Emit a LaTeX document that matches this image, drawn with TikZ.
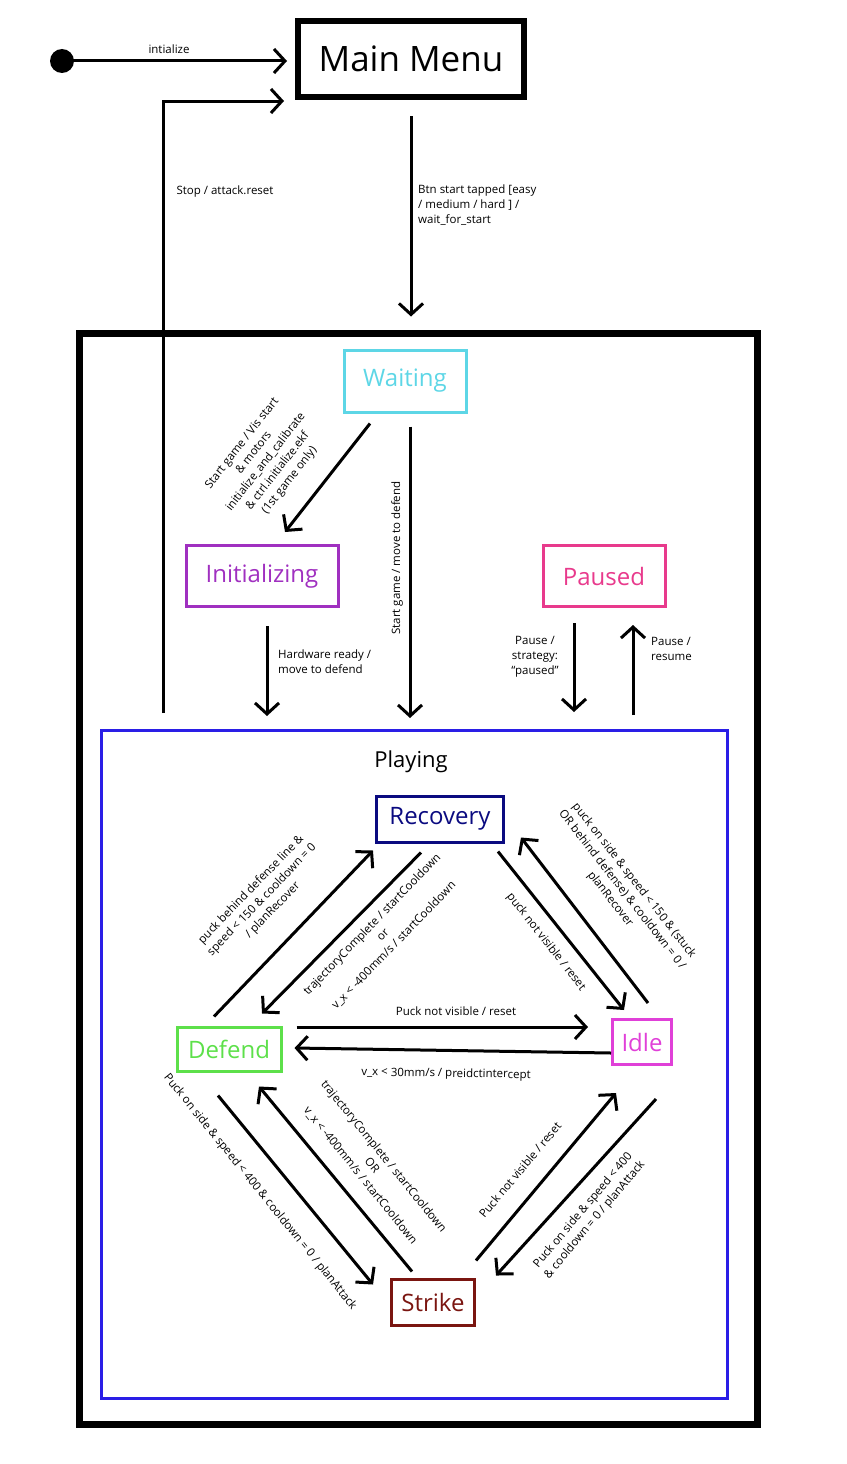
\documentclass[tikz,border=0pt]{standalone}
\usepackage{fontspec}
\setmainfont{Open Sans}
\usetikzlibrary{arrows.meta,calc}

\tikzset{
  state/.style={draw, line width=3pt, minimum height=46pt, inner sep=2pt, font=\fontsize{24}{28}\selectfont},
  trans/.style={line width=3pt, -{Straight Barb[length=11pt,width=24pt,line width=3pt]}},
  lbl/.style={font=\fontsize{11.5}{15}\selectfont, align=center, inner sep=1pt}
}
\definecolor{cwait}{HTML}{5DD6E6}
\definecolor{cinit}{HTML}{A030C0}
\definecolor{cpause}{HTML}{E83A8C}
\definecolor{cplay}{HTML}{2A1EE6}
\definecolor{crec}{HTML}{0A0A80}
\definecolor{cdef}{HTML}{5DE04A}
\definecolor{cidle}{HTML}{E040D8}
\definecolor{cstrike}{HTML}{7A1510}

\begin{document}
\begin{tikzpicture}[x=1pt,y=-1pt]
        \useasboundingbox (0,0) rectangle (846,1464);
        % Containers
        \draw[line width=7pt] (79,333) rectangle (757,1424);
        \draw[line width=3pt, cplay] (101,730) rectangle (727,1398);
        \node[font=\fontsize{22}{26}\selectfont] (playing) at (411,762) {Playing};

        % Top level states
        \fill (62,61) circle (12) coordinate (start);
        \node[draw, line width=6pt, minimum width=226pt, minimum height=76pt, font=\fontsize{35}{40}\selectfont] (menu) at (411,59) {Main Menu};
        \node[state, cwait, minimum width=122pt, minimum height=62pt] (wait) at (405,381) {Waiting};
        \node[state, cinit, minimum width=152pt, minimum height=61pt] (init) at (262,576) {Initializing};
        \node[state, cpause, minimum width=122pt, minimum height=61pt] (pause) at (604,576) {Paused};

        % Inner states
        \node[state, crec, minimum width=127pt] (rec) at (440,819) {Recovery};
        \node[state, cdef, minimum width=104pt, minimum height=44pt] (def) at (229,1049) {Defend};
        \node[state, cidle, minimum width=59pt, minimum height=45pt] (idle) at (642,1042) {Idle};
        \node[state, cstrike, minimum width=83pt] (strike) at (433,1302) {Strike};

        % Top level transitions
        \draw[trans] (start) -- ([shift={(-8,2)}]menu.west);
        \node[lbl] at (169,49) {intialize};
        \coordinate (stopfrom) at (163,713);
        \draw[trans] (stopfrom) -- (163,101) -- ([shift={(-11,42)}]menu.west);
        \node[lbl] at (225,192) {Stop / attack.reset};
        \draw[trans] ([shift={(0,16)}]menu.south) -- ([shift={(6,-32)}]wait.north);
        \node[lbl, align=left, anchor=west] at (417,205) {Btn start tapped [easy\\/ medium / hard ] /\\wait\_for\_start};
        \draw[trans] ([shift={(-35,10)}]wait.south) -- ([shift={(23,-12)}]init.north);
        \node[lbl, rotate=52] at (266,462) {Start game / Vis start\\ \& motors\\initialize\_and\_calibrate\\\& ctrl.initialize.ekf\\(1st game only)};
        \draw[trans] ([shift={(5,13)}]wait.south) -- (410,718);
        \node[lbl, rotate=90] at (397,558) {Start game / move to defend};
        \draw[trans] ([shift={(5,18)}]init.south) -- (267,716);
        \node[lbl, align=left, anchor=west] at (277,662) {Hardware ready /\\move to defend};
        \draw[trans] ([shift={(-30,15)}]pause.south) -- (574,712);
        \node[lbl] at (535,657) {Pause /\\strategy:\\“paused”};
        \coordinate (resfrom) at (633,715);
        \draw[trans] (resfrom) -- ([shift={(29,17)}]pause.south);
        \node[lbl, align=left, anchor=west] at (650,649) {Pause /\\resume};

        % Playing transitions
        \draw[trans] ([shift={(-15,-9)}]def.north) -- ([shift={(-2,7)}]rec.south west);
        \node[lbl, rotate=46] at (262,900) {puck behind defense line \&\\speed < 150 \& cooldown = 0\\/ planRecover};
        \draw[trans] ([shift={(-19,9)}]rec.south) -- ([shift={(33,-12)}]def.north);
        \node[lbl, rotate=46] at (383,935) {trajectoryComplete / startCooldown\\or\\v\_x < -400mm/s / startCooldown};
        \draw[trans] ([shift={(-7,8)}]rec.south east) -- ([shift={(-18,-8)}]idle.north);
        \node[lbl, rotate=-52] at (546,942) {puck not visible / reset};
        \draw[trans] ([shift={(6,-15)}]idle.north) -- ([shift={(16,-6)}]rec.south east);
        \node[lbl, rotate=-52] at (622,890) {puck on side \& speed < 150 \& (stuck\\OR behind defense) \& cooldown = 0 /\\planRecover};
        \draw[trans] ([shift={(14,-22)}]def.east) -- ([shift={(-23,-15)}]idle.west);
        \node[lbl] at (456,1011) {Puck not visible / reset};
        \draw[trans] ([shift={(0,11)}]idle.west) -- ([shift={(12,-1)}]def.east);
        \node[lbl, rotate=-1] at (446,1074) {v\_x < 30mm/s / preidctintercept};
        \draw[trans] ([shift={(-11,23)}]def.south) -- ([shift={(-60,7)}]strike.north);
        \node[lbl, rotate=-51] at (260,1192) {Puck on side \& speed < 400 \& cooldown = 0 / planAttack};
        \draw[trans] ([shift={(-21,-6)}]strike.north) -- ([shift={(30,14)}]def.south);
        \node[lbl, rotate=-51] at (372,1166) {trajectoryComplete / startCooldown\\OR\\v\_x < -400mm/s / startCooldown};
        \draw[trans] ([shift={(43,-17)}]strike.north) -- ([shift={(-26,27)}]idle.south);
        \node[lbl, rotate=50] at (520,1170) {Puck not visible / reset};
        \draw[trans] ([shift={(14,33)}]idle.south) -- ([shift={(63,-2)}]strike.north);
        \node[lbl, rotate=50] at (589,1215) {Puck on side \& speed < 400\\\& cooldown = 0 / planAttack};
\end{tikzpicture}
\end{document}
